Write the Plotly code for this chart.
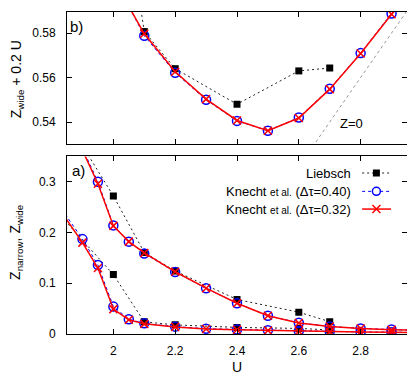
import plotly.graph_objects as go

# Knecht et al. (dtau=0.32) and (dtau=0.40): Z_wide and Z_narrow vs U
u_wide = [1.9, 1.95, 2.0, 2.05, 2.1, 2.2, 2.3, 2.4, 2.5, 2.6, 2.7, 2.8, 2.9, 3.0]
wide_032 = [0.362, 0.296, 0.213, 0.182, 0.1597, 0.1226, 0.0903, 0.0607, 0.0361, 0.0218, 0.0148, 0.0108, 0.0085, 0.0068]
wide_040 = [0.366, 0.300, 0.214, 0.182, 0.1588, 0.1222, 0.0900, 0.0605, 0.0361, 0.0220, 0.0150, 0.0110, 0.0088, 0.0070]

u_narrow = [1.8, 1.9, 1.95, 2.0, 2.05, 2.1, 2.2, 2.3, 2.4, 2.5, 2.6, 2.7, 2.8, 2.9, 3.0]
narrow_032 = [0.269, 0.180, 0.130, 0.049, 0.028, 0.020, 0.014, 0.010, 0.0085, 0.0070, 0.0055, 0.0045, 0.0038, 0.0032, 0.0028]
narrow_040 = [0.275, 0.187, 0.136, 0.054, 0.029, 0.021, 0.0145, 0.0105, 0.0090, 0.0075, 0.0060, 0.0050, 0.0040, 0.0035, 0.0030]

# Liebsch
u_lie = [1.8, 2.0, 2.1, 2.2, 2.4, 2.6, 2.7]
lie_wide = [0.47, 0.272, 0.1607, 0.124, 0.068, 0.043, 0.0243]
lie_narrow = [0.253, 0.117, 0.024, 0.018, 0.013, 0.011, 0.008]

# Z=0 reference line in panel b)
u_z0 = [2.5, 3.0]

x_ticks = [2.0, 2.2, 2.4, 2.6, 2.8]
x_labels = ["2", "2.2", "2.4", "2.6", "2.8"]


def shifted(u, z):
    """Z_wide + 0.2 U"""
    return [zz + 0.2 * uu for uu, zz in zip(u, z)]


FONT = "Liberation Sans, Arial, sans-serif"
BLUE = "#0000ff"
RED = "#ff0000"

lie_style = dict(mode="lines+markers", line=dict(color="#222", width=1, dash="2px,3px"),
                 marker=dict(symbol="square", size=7, color="black"))
k40_style = dict(mode="lines+markers", line=dict(color=BLUE, width=1, dash="3px,3px"),
                 marker=dict(symbol="circle-open", size=9, color=BLUE, line=dict(width=1.5)))
k32_style = dict(mode="lines+markers", line=dict(color=RED, width=1.5),
                 marker=dict(symbol="x-thin-open", size=8, color=RED, line=dict(width=1.5, color=RED)))

fig = go.Figure()

# bottom panel a)
for u, z in [(u_lie, lie_wide), (u_lie, lie_narrow)]:
    fig.add_trace(go.Scatter(x=u, y=z, xaxis="x", yaxis="y", showlegend=False, **lie_style))
for u, z in [(u_wide, wide_040), (u_narrow, narrow_040)]:
    fig.add_trace(go.Scatter(x=u, y=z, xaxis="x", yaxis="y", showlegend=False, **k40_style))
for u, z in [(u_wide, wide_032), (u_narrow, narrow_032)]:
    fig.add_trace(go.Scatter(x=u, y=z, xaxis="x", yaxis="y", showlegend=False, **k32_style))

# top panel b)
fig.add_trace(go.Scatter(x=u_z0, y=[0.2 * u for u in u_z0], xaxis="x2", yaxis="y2", mode="lines",
                         line=dict(color="#999", width=1, dash="3px,3px"), showlegend=False))
fig.add_trace(go.Scatter(x=u_lie, y=shifted(u_lie, lie_wide), xaxis="x2", yaxis="y2",
                         showlegend=False, **lie_style))
fig.add_trace(go.Scatter(x=u_wide, y=shifted(u_wide, wide_040), xaxis="x2", yaxis="y2",
                         showlegend=False, **k40_style))
fig.add_trace(go.Scatter(x=u_wide, y=shifted(u_wide, wide_032), xaxis="x2", yaxis="y2",
                         showlegend=False, **k32_style))

axis_common = dict(showline=True, linecolor="black", linewidth=1, mirror="allticks",
                   ticks="inside", ticklen=5, tickcolor="black", showgrid=False, zeroline=False,
                   tickfont=dict(family=FONT, size=12, color="black"))

# page body has an 8px margin, so the figure is 8px smaller and the plot box shifted
fig.update_layout(
    width=407, height=368,
    margin=dict(l=59, r=8, t=4, b=42),
    paper_bgcolor="white", plot_bgcolor="white",
    font=dict(family=FONT, size=13, color="black"),
    xaxis=dict(domain=[0, 1], range=[1.85, 2.95], tickvals=x_ticks, ticktext=x_labels,
               anchor="y", ticklabelstandoff=6, **axis_common),
    yaxis=dict(domain=[0, 0.5516], range=[0, 0.35], tickvals=[0, 0.1, 0.2, 0.3],
               ticktext=["0", "0.1", "0.2", "0.3"], anchor="x", ticklabelstandoff=8, **axis_common),
    xaxis2=dict(domain=[0, 1], range=[1.85, 2.95], tickvals=x_ticks, showticklabels=False,
                anchor="y2", **axis_common),
    yaxis2=dict(domain=[0.59, 1], range=[0.5301, 0.5895], tickvals=[0.54, 0.56, 0.58],
                ticktext=["0.54", "0.56", "0.58"], anchor="x2", ticklabelstandoff=8, **axis_common),
)

ann = [
    dict(text="U", x=0.5, y=-0.1016, xref="paper", yref="paper", xanchor="center", yanchor="middle",
         font=dict(size=14)),
    dict(text="Z<sub>wide</sub> + 0.2 U", x=-0.148, y=0.79,
         xref="paper", yref="paper", textangle=-90, xanchor="center", yanchor="middle",
         font=dict(size=14)),
    dict(text="Z<sub>narrow</sub>, Z<sub>wide</sub>",
         x=-0.148, y=0.285, xref="paper", yref="paper", textangle=-90, xanchor="center",
         yanchor="middle", font=dict(size=14)),
    dict(text="b)", x=0.003, y=0.889, xref="x2 domain", yref="y2 domain", xanchor="left",
         yanchor="middle", font=dict(size=15)),
    dict(text="a)", x=0.008, y=0.919, xref="x domain", yref="y domain", xanchor="left",
         yanchor="middle", font=dict(size=15)),
    dict(text="Z=0", x=2.77, y=0.5395, xref="x2", yref="y2", xanchor="center", yanchor="middle",
         font=dict(size=13)),
]

# legend drawn by hand: text on the left, sample on the right
leg_rows = [
    ("Liebsch", 0.500),
    ("Knecht <span style='font-size:10px'>et al.</span> (Δτ=0.40)", 0.443),
    ("Knecht <span style='font-size:10px'>et al.</span> (Δτ=0.32)", 0.388),
]
for txt, yy in leg_rows:
    ann.append(dict(text=txt, x=0.841, y=yy, xref="paper", yref="paper", xanchor="right",
                    yanchor="middle", font=dict(size=13)))
for a in ann:
    a["showarrow"] = False
fig.update_layout(annotations=ann)

lx0, lx1, lxm = 0.868, 0.953, 0.910
shapes = []
shapes.append(dict(type="line", x0=lx0, x1=lx1, y0=0.500, y1=0.500, xref="paper", yref="paper",
                   line=dict(color="#222", width=1, dash="2px,3px")))
shapes.append(dict(type="rect", xref="paper", yref="paper", xsizemode="pixel", ysizemode="pixel",
                   xanchor=lxm, yanchor=0.500, x0=-3.5, x1=3.5, y0=-3.5, y1=3.5,
                   fillcolor="black", line=dict(width=0)))
shapes.append(dict(type="line", x0=lx0, x1=lx1, y0=0.443, y1=0.443, xref="paper", yref="paper",
                   line=dict(color=BLUE, width=1, dash="3px,3px")))
shapes.append(dict(type="circle", xref="paper", yref="paper", xsizemode="pixel", ysizemode="pixel",
                   xanchor=lxm, yanchor=0.443, x0=-4, x1=4, y0=-4, y1=4,
                   fillcolor="white", line=dict(color=BLUE, width=1.5)))
shapes.append(dict(type="line", x0=lx0, x1=lx1, y0=0.388, y1=0.388, xref="paper", yref="paper",
                   line=dict(color=RED, width=1.5)))
for d in (1, -1):
    shapes.append(dict(type="line", xref="paper", yref="paper", xsizemode="pixel", ysizemode="pixel",
                       xanchor=lxm, yanchor=0.388, x0=-4, x1=4, y0=-4 * d, y1=4 * d,
                       line=dict(color=RED, width=1.5)))
fig.update_layout(shapes=shapes)

fig.write_html("out.html")
